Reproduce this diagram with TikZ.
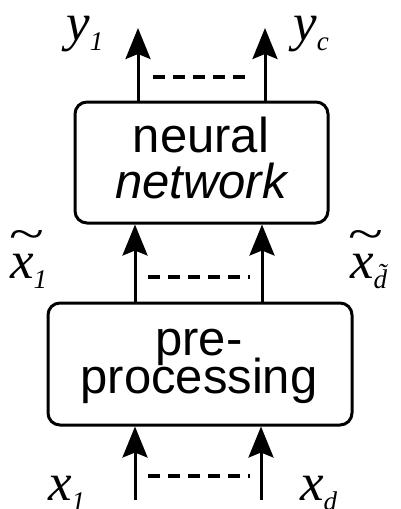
\documentclass[tikz,border=0pt]{standalone}
\usepackage{fontspec}
\setmainfont{Liberation Sans}
\newfontfamily\symfont{Liberation Serif}
\usetikzlibrary{arrows.meta}

% italic symbol with a lowered subscript
\newcommand{\symsub}[2]{\textit{#1}\raisebox{-10pt}{\fontsize{27}{27}\selectfont\textit{#2}}}

\tikzset{
  stage/.style={draw, line width=3pt, rounded corners=12pt, inner sep=0pt},
  boxtext/.style={anchor=base, inner sep=0pt, font=\fontsize{49}{49}\selectfont},
  flow/.style={line width=3pt, -{Stealth[length=31pt, width=25pt, inset=5pt]}},
  gap/.style={line width=3.5pt, dash pattern=on 12pt off 8pt},
  sym/.style={anchor=base west, inner sep=0pt, font=\symfont\fontsize{53}{53}\selectfont},
  wave/.style={inner sep=0pt, font=\symfont\fontsize{46}{46}\selectfont}
}

\begin{document}
\begin{tikzpicture}[x=1pt, y=-1pt]
  \useasboundingbox (0,0) rectangle (401,509);

  % processing stages
  \node[stage, minimum width=253pt, minimum height=121pt] (nn) at (201.5,162.5) {};
  \node[stage, minimum width=304pt, minimum height=122pt] (pp) at (200,364) {};

  \node[boxtext] (nnA) at (201,152) {neural};
  \node[boxtext] (nnB) at (201,198) {\itshape network};
  \node[boxtext] (ppA) at (199,355) {pre-};
  \node[boxtext] (ppB) at (199,393) {processing};

  % outputs
  \coordinate (yA) at (138,28);
  \coordinate (yB) at (265,28);
  \draw[flow] (yA |- nn.north) -- (yA);
  \draw[flow] (yB |- nn.north) -- (yB);
  \coordinate (dA1) at (153,77);
  \coordinate (dA2) at (252,77);
  \draw[gap] (dA1) -- (dA2);

  % preprocessed features
  \coordinate (fA) at (135,303);
  \coordinate (fB) at (262,303);
  \draw[flow] (fA) -- (fA |- nn.south);
  \draw[flow] (fB) -- (fB |- nn.south);
  \coordinate (dB1) at (148,277);
  \coordinate (dB2) at (250,277);
  \draw[gap] (dB1) -- (dB2);

  % raw inputs
  \coordinate (xA) at (135,500);
  \coordinate (xB) at (261,500);
  \draw[flow] (xA) -- (xA |- pp.south);
  \draw[flow] (xB) -- (xB |- pp.south);
  \coordinate (dC1) at (148,476);
  \coordinate (dC2) at (250,476);
  \draw[gap] (dC1) -- (dC2);

  % variable labels
  \node[sym] (ly1) at (66,40) {\symsub{y}{1}};
  \node[sym] (lyc) at (293,40) {\symsub{y}{c}};
  \node[sym] (lt1) at (10,278) {\symsub{x}{1}};
  \node[wave] (wt1) at (27,240) {\scalebox{1.4}[1]{\char"007E}};
  \node[sym] (ltd) at (350,278) {\symsub{x}{d\char"0303}};
  \node[wave] (wtd) at (366,240) {\scalebox{1.4}[1]{\char"007E}};
  \node[sym] (lx1) at (48,500) {\symsub{x}{1}};
  \node[sym] (lxd) at (300,500) {\symsub{x}{d}};
\end{tikzpicture}
\end{document}
